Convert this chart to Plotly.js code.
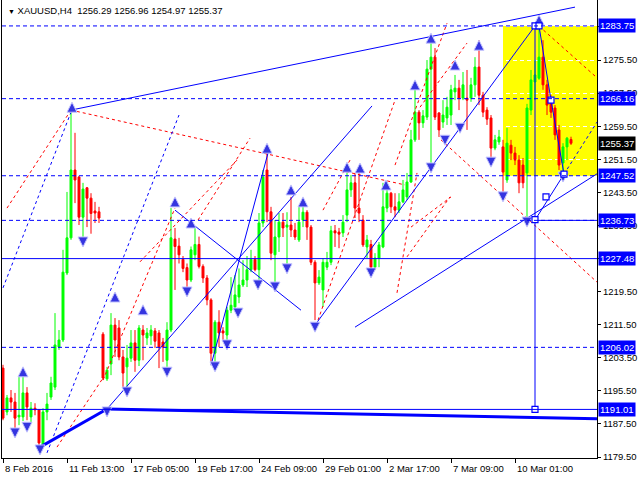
<!DOCTYPE html>
<html><head><meta charset="utf-8">
<script src="https://cdn.plot.ly/plotly-3.0.1.min.js"></script>
<style>html,body{margin:0;padding:0;background:#fff}</style>
</head><body><div id="chart" style="width:640px;height:480px"></div>
<script>
// ---- data (H4 bars, XAUUSD) ----
const timeTickIdx = [0, 16, 32, 48, 64, 80, 96, 112, 128];
const timeTickText = ["8 Feb 2016", "11 Feb 13:00", "17 Feb 05:00", "19 Feb 17:00", "24 Feb 09:00", "29 Feb 01:00", "2 Mar 17:00", "7 Mar 09:00", "10 Mar 01:00"];

const openP = [
1201.0,1190.4,1193.8,1192.8,1189.2,1189.2,1195.0,1189.2,1191.3,1190.9,
1182.4,1190.4,1194.0,1196.4,1206.1,1207.8,1224.0,1232.5,1248.9,1247.2,
1237.5,1244.6,1242.1,1239.0,1238.8,1209.2,1198.4,1202.0,1211.4,1210.7,
1203.7,1201.3,1203.4,1207.1,1202.9,1210.2,1208.3,1208.8,1210.0,1209.5,
1207.3,1202.9,1210.2,1232.2,1230.5,1227.3,1225.3,1222.3,1228.4,1230.9,
1225.6,1222.8,1217.5,1204.6,1212.1,1210.0,1209.0,1215.0,1215.8,1218.2,
1221.1,1222.3,1224.8,1227.3,1224.8,1236.1,1248.9,1238.8,1228.4,1232.7,
1236.3,1235.1,1235.6,1234.4,1232.0,1236.8,1238.7,1235.1,1226.6,1221.6,
1219.9,1225.4,1226.6,1234.2,1233.9,1233.7,1238.0,1244.1,1245.8,1239.7,
1236.8,1230.3,1230.9,1225.4,1227.6,1230.3,1239.7,1243.3,1240.0,1239.2,
1241.2,1242.4,1246.0,1256.2,1262.9,1260.3,1261.7,1273.3,1276.2,1262.7,
1260.5,1261.5,1262.2,1267.8,1268.7,1266.3,1266.3,1266.3,1269.5,1273.8,
1267.0,1263.4,1261.5,1254.2,1255.7,1254.5,1246.5,1254.9,1253.0,1251.3,
1250.1,1248.2,1263.4,1270.2,1271.1,1276.2,1269.5,1265.8,1263.9,1258.6,
1250.6,1254.5,1256.29];
const highP = [
1201.8,1194.5,1195.7,1195.0,1198.9,1198.9,1196.4,1192.8,1192.5,1191.0,
1191.3,1195.0,1198.9,1214.3,1210.2,1229.6,1243.6,1263.4,1257.9,1247.5,
1245.8,1244.8,1243.3,1241.2,1240.0,1209.7,1201.3,1214.3,1213.1,1212.6,
1205.4,1206.6,1210.2,1210.2,1211.4,1211.4,1210.7,1211.4,1210.7,1210.2,
1208.3,1212.1,1239.7,1234.9,1232.5,1228.1,1226.3,1230.4,1234.9,1232.8,
1226.1,1223.5,1217.9,1212.6,1215.0,1210.9,1215.8,1223.0,1223.5,1225.1,
1227.1,1228.1,1229.6,1228.1,1238.5,1248.9,1253.0,1240.0,1236.8,1238.5,
1238.5,1238.7,1242.4,1236.1,1240.0,1240.0,1239.2,1235.6,1227.1,1224.7,
1227.6,1229.1,1235.4,1235.6,1234.9,1238.0,1248.4,1247.7,1248.2,1248.2,
1238.0,1233.2,1232.0,1228.8,1231.5,1245.8,1246.0,1243.6,1243.3,1243.3,
1246.5,1248.2,1258.6,1268.3,1263.4,1263.4,1275.5,1279.6,1278.4,1262.9,
1265.8,1266.6,1269.5,1271.9,1270.7,1272.6,1273.1,1271.2,1276.2,1280.3,
1267.8,1264.1,1262.2,1257.4,1258.6,1256.2,1259.1,1256.2,1254.5,1252.5,
1251.8,1264.9,1273.1,1275.5,1283.75,1280.3,1270.7,1267.0,1264.6,1259.8,
1255.4,1256.9,1256.96];
const lowP = [
1188.4,1189.6,1190.4,1186.0,1187.2,1188.2,1188.4,1187.9,1189.6,1182.4,
1181.9,1188.4,1193.3,1195.7,1205.4,1207.3,1223.5,1232.0,1240.9,1235.6,
1232.5,1235.1,1233.5,1236.1,1236.1,1198.1,1197.9,1199.3,1203.7,1202.9,
1196.2,1195.7,1202.5,1200.1,1201.5,1202.9,1206.6,1206.6,1205.9,1201.0,
1202.5,1201.3,1209.7,1219.9,1226.3,1224.2,1219.9,1221.8,1227.1,1225.1,
1221.6,1216.2,1202.5,1201.8,1206.1,1207.8,1207.1,1214.3,1215.0,1216.7,
1220.6,1220.6,1224.2,1224.4,1221.8,1235.1,1236.3,1227.1,1220.6,1229.1,
1232.7,1225.1,1232.7,1232.0,1231.5,1235.1,1232.0,1225.9,1212.6,1221.1,
1215.8,1224.7,1225.9,1230.3,1230.0,1232.7,1236.3,1242.4,1237.3,1236.3,
1230.3,1227.6,1224.2,1224.7,1225.4,1230.0,1238.7,1238.5,1237.5,1238.5,
1240.9,1241.7,1245.8,1255.7,1256.2,1259.1,1261.0,1248.9,1261.0,1256.9,
1259.1,1259.8,1259.8,1265.8,1263.4,1265.8,1258.6,1265.4,1266.6,1264.6,
1261.7,1259.8,1251.3,1253.7,1255.0,1242.4,1245.8,1251.3,1250.1,1243.3,
1244.5,1236.73,1262.2,1265.8,1270.7,1268.3,1262.2,1261.5,1256.2,1248.9,
1248.4,1251.3,1254.97];
const closeP = [
1188.9,1193.8,1192.8,1188.9,1189.6,1195.0,1191.6,1191.3,1190.9,1182.9,
1190.4,1192.3,1197.4,1206.6,1207.8,1224.2,1232.5,1248.9,1246.5,1237.5,
1244.3,1242.1,1238.4,1238.5,1237.3,1198.6,1200.5,1211.4,1207.8,1203.7,
1199.8,1203.4,1207.1,1202.9,1210.7,1209.0,1209.5,1210.2,1207.5,1206.1,
1206.1,1210.2,1232.5,1230.4,1228.4,1225.1,1222.3,1229.6,1230.9,1225.6,
1222.8,1217.5,1204.6,1212.1,1209.5,1209.5,1215.0,1216.2,1218.7,1221.1,
1222.3,1224.8,1227.3,1224.8,1236.1,1247.2,1238.8,1228.8,1232.7,1236.3,
1234.9,1235.6,1234.4,1232.7,1236.3,1238.7,1235.1,1226.6,1221.6,1223.0,
1226.6,1226.6,1234.2,1233.7,1233.4,1236.3,1244.1,1245.8,1239.7,1238.5,
1230.8,1232.0,1225.4,1227.6,1230.8,1240.0,1243.3,1240.0,1239.2,1241.2,
1244.1,1246.0,1256.2,1262.9,1260.3,1262.0,1273.3,1276.2,1261.7,1258.6,
1262.2,1264.1,1268.3,1268.7,1266.3,1269.5,1265.8,1269.5,1273.8,1267.0,
1262.9,1261.2,1254.2,1256.2,1256.9,1248.4,1255.4,1253.0,1251.3,1245.8,
1245.8,1263.9,1270.7,1271.9,1276.2,1269.5,1264.6,1262.9,1257.4,1250.1,
1254.5,1256.6,1255.37];

const priceTicks = [1179.5,1187.5,1195.5,1203.5,1211.5,1219.5,1227.5,1235.5,1243.5,1251.5,1259.5,1267.5,1275.5,1283.5];
const priceTickText = ["1179.50","1187.50","1195.50","1203.50","1211.50","1219.50","","1235.50","1243.50","1251.50","1259.50","1267.50","1275.50",""];
const dashedLevels = [1283.75, 1266.16, 1247.52, 1236.73, 1206.02];
const solidLevels = [1227.48, 1191.01];
const levelLabels = [1283.75, 1266.16, 1247.52, 1236.73, 1227.48, 1206.02, 1191.01];
const lastPrice = 1255.37;
const titleText = "XAUUSD,H4  1256.29 1256.96 1254.97 1255.37";

// zone (bar index from/to, price from/to)
const zoneBars = [125, 160];
const zonePrices = [1247.52, 1283.75];

// trend lines: [barFrom, priceFrom, barTo, priceTo]
const blueSolidLines = [
  [17, 1263.4, 143, 1288.3],
  [26, 1191.1, 92.25, 1264.4],
  [52, 1201.7, 66.25, 1253.0],
  [43, 1239.2, 74.5, 1215.0],
  [78, 1211.4, 133, 1283.75],
  [88, 1210.9, 150, 1248.9],
  [133, 1236.8, 140.25, 1247.9],
  [134, 1283.75, 137, 1265.8],
  [137, 1265.8, 140.25, 1247.9],
  [133, 1283.75, 133, 1191.01],
  [133, 1236.73, 150, 1236.73]
];
const blueThickLines = [
  [9.25, 1181.9, 26, 1191.1],
  [26, 1191.1, 150, 1188.7]
];
const blueDottedLines = [
  [0, 1220.4, 17, 1262.9],
  [11, 1180.5, 44, 1262.2],
  [140.25, 1247.9, 148.5, 1260.5]
];
const redDottedLines = [
  [1, 1239.7, 17, 1263.4],
  [17, 1263.4, 100.5, 1245.3],
  [13.5, 1181.9, 25, 1198.6],
  [25, 1198.1, 43, 1239.7],
  [34.25, 1226.7, 58.5, 1251.3],
  [48.75, 1236.8, 61.75, 1256.6],
  [78.75, 1212.6, 98, 1265.8],
  [98, 1250.1, 111, 1284.4],
  [109.5, 1256.2, 148.5, 1221.8],
  [134, 1283.7, 148.5, 1271.2],
  [80, 1239.2, 86.75, 1251.3],
  [98.5, 1219.2, 103.5, 1248.2],
  [102, 1235.1, 112, 1242.4],
  [104.25, 1264.1, 116, 1279.6],
  [101, 1227.9, 111.75, 1242.4]
];
const upArrowBars = [17.25, 5, 28, 35, 43, 47, 66, 72, 75, 86, 89.25, 95.75, 103, 107, 113, 119, 134];
const upArrowPrices = [1265.3, 1201.3, 1219.4, 1216.3, 1242.4, 1237.3, 1255.4, 1245.3, 1242.4, 1250.8, 1250.6, 1246.5, 1270.7, 1282.0, 1275.5, 1280.3, 1286.4];
const downArrowBars = [20, 3, 6, 9.25, 26, 31, 41, 53, 56, 46, 58.75, 63.75, 68, 71, 78, 92, 107, 110.5, 114.25, 122, 125, 131, 140];
const downArrowPrices = [1230.3, 1184.1, 1185.5, 1180.0, 1189.2, 1194.0, 1198.8, 1200.1, 1205.4, 1218.2, 1213.1, 1219.9, 1219.4, 1223.8, 1209.7, 1222.8, 1248.2, 1254.9, 1257.8, 1249.6, 1241.2, 1235.1, 1246.0];
const squareBars = [133, 134, 137, 140.25, 135.75, 133, 133];
const squarePrices = [1283.75, 1283.75, 1265.8, 1247.9, 1242.4, 1236.9, 1191.01];

// ---- build ----
const barIdx = openP.map((_, k) => k);
function segs(list) {
  const x = [], y = [];
  list.forEach(s => { x.push(s[0], s[2], null); y.push(s[1], s[3], null); });
  return {x, y};
}
const FONT = "Liberation Sans, Arial, sans-serif";
const BLUE = "#0000ff";

const traces = [];
traces.push({
  type: "candlestick", x: barIdx, open: openP, high: highP, low: lowP, close: closeP,
  increasing: {line: {color: "#00ff00", width: 1}, fillcolor: "#00ff00"},
  decreasing: {line: {color: "#ff0000", width: 1}, fillcolor: "#ff0000"},
  whiskerwidth: 0, hoverinfo: "skip", showlegend: false
});
function lineTrace(list, color, width, dash) {
  const s = segs(list);
  return {type: "scatter", mode: "lines", x: s.x, y: s.y, connectgaps: false,
    line: {color, width, dash}, hoverinfo: "skip", showlegend: false, cliponaxis: true};
}
traces.push(lineTrace(redDottedLines, "#ff0000", 1, "3px,3px"));
traces.push(lineTrace(blueDottedLines, BLUE, 1, "3px,3px"));
traces.push(lineTrace(blueSolidLines, BLUE, 1, "solid"));
traces.push(lineTrace(blueThickLines, BLUE, 3, "solid"));
traces.push({type: "scatter", mode: "markers", x: upArrowBars, y: upArrowPrices,
  marker: {symbol: "arrow-up", size: 10, color: "#3535e0", line: {color: "#c4c4ff", width: 1}},
  hoverinfo: "skip", showlegend: false});
traces.push({type: "scatter", mode: "markers", x: downArrowBars, y: downArrowPrices,
  marker: {symbol: "arrow-down", size: 10, color: "#3535e0", line: {color: "#c4c4ff", width: 1}},
  hoverinfo: "skip", showlegend: false});
traces.push({type: "scatter", mode: "markers", x: squareBars, y: squarePrices,
  marker: {symbol: "square", size: 6, color: "#ffffff", line: {color: BLUE, width: 1.2}},
  hoverinfo: "skip", showlegend: false});

const shapes = [];
shapes.push({type: "rect", layer: "below", xref: "x", yref: "y",
  x0: zoneBars[0], x1: zoneBars[1], y0: zonePrices[0], y1: zonePrices[1],
  fillcolor: "#ffff00", line: {width: 0}});
shapes.push({type: "line", layer: "between", xref: "paper", yref: "y", x0: 0, x1: 1,
  y0: lastPrice, y1: lastPrice, line: {color: "#ffffff", width: 1}});
dashedLevels.forEach(v => shapes.push({type: "line", layer: "above", xref: "paper", yref: "y",
  x0: 0, x1: 1, y0: v, y1: v, line: {color: BLUE, width: 1, dash: "4px,3px"}}));
solidLevels.forEach(v => shapes.push({type: "line", layer: "above", xref: "paper", yref: "y",
  x0: 0, x1: 1, y0: v, y1: v, line: {color: BLUE, width: 1}}));

const annotations = [];
levelLabels.forEach(v => annotations.push({xref: "paper", yref: "y", x: 1, y: v,
  xanchor: "left", yanchor: "middle", xshift: 1, showarrow: false,
  text: v.toFixed(2), bgcolor: BLUE, borderpad: 1,
  font: {family: FONT, size: 9.5, color: "#ffffff"}}));
annotations.push({xref: "paper", yref: "y", x: 1, y: lastPrice,
  xanchor: "left", yanchor: "middle", xshift: 1, showarrow: false,
  text: lastPrice.toFixed(2), bgcolor: "#000000", borderpad: 1,
  font: {family: FONT, size: 9.5, color: "#ffffff"}});
annotations.push({xref: "paper", yref: "paper", x: 0, y: 1, xanchor: "left", yanchor: "top",
  xshift: 4, yshift: -3, showarrow: false,
  text: '<span style="font-size:7px">\u25BC</span>\u00a0' + titleText.replace(/  /g, "\u00a0\u00a0"),
  font: {family: FONT, size: 9.5, color: "#000000"}});
timeTickIdx.forEach((v, k) => annotations.push({xref: "x", yref: "paper", x: v, y: 0,
  xanchor: "left", yanchor: "top", xshift: 0, yshift: -3, showarrow: false,
  text: timeTickText[k], font: {family: FONT, size: 9.5, color: "#000000"}}));

const layout = {
  width: 640, height: 480,
  margin: {l: 2, r: 43, t: 0, b: 22},
  paper_bgcolor: "#ffffff", plot_bgcolor: "#ffffff",
  showlegend: false, dragmode: false,
  font: {family: FONT, size: 9.5, color: "#000000"},
  xaxis: {
    range: [-0.25, 148.5], tickmode: "array", tickvals: timeTickIdx, showticklabels: false,
    ticks: "outside", ticklen: 4, tickcolor: "#000000",
    showline: true, linecolor: "#000000", linewidth: 1, showgrid: false, zeroline: false,
    rangeslider: {visible: false}, fixedrange: true
  },
  yaxis: {
    side: "right", range: [1179.26, 1290.02], tickmode: "array", tickvals: priceTicks,
    ticktext: priceTickText,
    ticks: "outside", ticklen: 3, tickcolor: "#000000",
    showline: true, mirror: true, linecolor: "#000000", linewidth: 1,
    showgrid: true, gridcolor: "#ffffff", griddash: "4px,3px", gridwidth: 1,
    zeroline: false, fixedrange: true,
    tickfont: {family: FONT, size: 9.5, color: "#000000"}
  },
  shapes, annotations
};
Plotly.newPlot("chart", traces, layout, {staticPlot: true, displayModeBar: false});
</script></body></html>
